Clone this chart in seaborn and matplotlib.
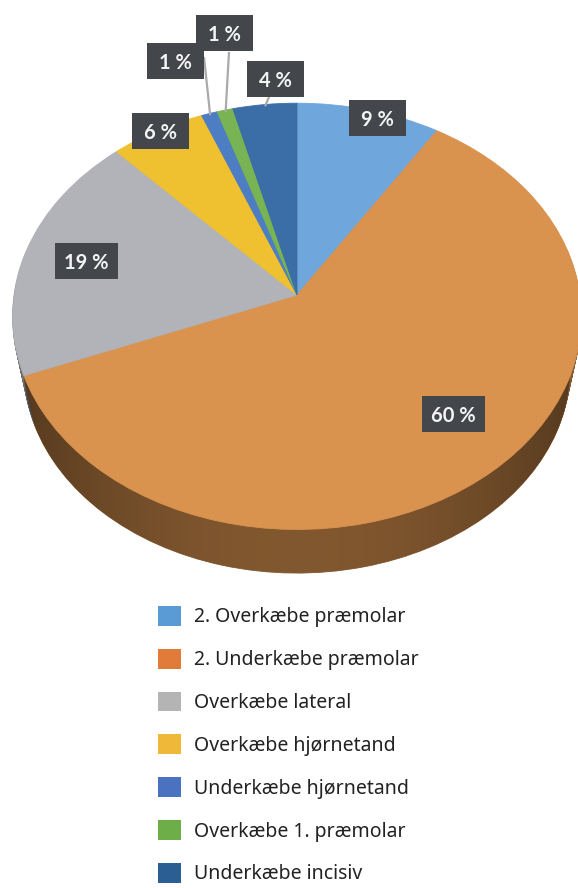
import numpy as np
import matplotlib
matplotlib.use("Agg")
import matplotlib.pyplot as plt
import seaborn as sns
from matplotlib.transforms import Transform
from matplotlib.patches import Patch, Rectangle, Polygon

# Tooth types and their share of the cases (percent)
categories = [
    "2. Overkæbe præmolar",
    "2. Underkæbe præmolar",
    "Overkæbe lateral",
    "Overkæbe hjørnetand",
    "Underkæbe hjørnetand",
    "Overkæbe 1. præmolar",
    "Underkæbe incisiv",
]
shares = [9, 60, 19, 6, 1, 1, 4]
value_labels = [f"{s} %" for s in shares]

# Slice colours on the lit top face, the legend swatches and the rim
face_colors = ["#6fa6dc", "#da934f", "#b1b3b9", "#efc130", "#4d7ec3", "#78b453", "#3b6ea6"]
legend_colors = ["#5b9bd5", "#e07b39", "#b4b4b4", "#f0b838", "#4a72c0", "#6dae48", "#2b5f94"]
side_colors = [tuple(0.62 * c for c in matplotlib.colors.to_rgb(fc)) for fc in face_colors]

sns.set_theme(style="white")
plt.rcParams["font.family"] = ["Noto Sans", "DejaVu Sans"]

W, H = 578, 888
fig = plt.figure(figsize=(W / 100, H / 100), dpi=100)
ax = fig.add_axes([0, 0, 1, 1])

# Tilted disc seen in perspective: the unit pie is mapped onto the page.
# The underside sits lower and slightly smaller (further from the eye).
CX, CY, RX, RY, K = 297.0, 295.0, 283.0, 211.0, 0.10
BOTTOM_DROP, BOTTOM_SCALE, LAYERS = 53.0, 0.96, 48


class TiltedDisc(Transform):
    input_dims = 2
    output_dims = 2
    is_separable = False
    has_inverse = False

    def __init__(self, drop=0.0, scale=1.0):
        super().__init__()
        self.drop = drop
        self.scale = scale

    def transform_non_affine(self, values):
        a = np.asarray(values, dtype=float)
        p = a.reshape(-1, 2)
        u, v = p[:, 0], p[:, 1]
        d = 1.0 + K * v
        out = np.column_stack([CX + self.scale * RX * u / d,
                               CY + self.drop - self.scale * RY * v / d])
        return out.reshape(a.shape)


def layer(t):
    return TiltedDisc(BOTTOM_DROP * t, 1.0 - (1.0 - BOTTOM_SCALE) * t)


def draw_pie(colors, disc, z):
    wedges, _ = ax.pie(shares, colors=colors, startangle=90, counterclock=False,
                       radius=1.0, wedgeprops=dict(linewidth=0.6))
    tr = disc + ax.transData
    for w, c in zip(wedges, colors):
        w.set_transform(tr)
        w.set_edgecolor(c)
        w.set_zorder(z)
    return wedges


# Rim of the disc: stacked copies of the pie, deepest first
for i in range(LAYERS, 0, -1):
    draw_pie(side_colors, layer(i / LAYERS), 1)

# Outline of top face together with underside, for clipping the rim shading
th = np.linspace(0, 2 * np.pi, 1441)
ring = np.column_stack([np.cos(th), np.sin(th)])
c0 = np.array([CX, CY + 40])
phi = np.linspace(-np.pi, np.pi, 1441)


def radial(pts):
    rel = pts - c0
    ang = np.arctan2(rel[:, 1], rel[:, 0])
    rad = np.hypot(rel[:, 0], rel[:, 1])
    o = np.argsort(ang)
    return np.interp(phi, ang[o], rad[o], period=2 * np.pi)


r_union = np.maximum(radial(layer(0).transform_non_affine(ring)),
                     radial(layer(1).transform_non_affine(ring)))
outline = c0 + np.column_stack([r_union * np.cos(phi), r_union * np.sin(phi)])
hull = Polygon(outline, closed=True, transform=ax.transData,
               facecolor="none", edgecolor="none")

# Shading across the rim, darker towards both ends
xs = np.linspace(0, W, 300)
alpha = np.clip(0.04 + 0.34 * ((xs - CX) / RX) ** 2, 0, 0.5)
grad = np.zeros((2, xs.size, 4))
grad[..., 3] = alpha
im = ax.imshow(grad, extent=(0, W, 620, 250), aspect="auto", zorder=2,
               interpolation="bilinear")
im.set_clip_path(hull)

# Top face
draw_pie(face_colors, layer(0), 3)

# Value labels in dark boxes
label_pos = [(377, 118), (453, 414), (86, 261), (160, 131), (175, 61), (224, 33), (275, 79)]
for (lx, ly), txt in zip(label_pos, value_labels):
    bw = 57 if len(txt) <= 3 else 63
    bh = 36
    ax.add_patch(Rectangle((lx - bw / 2, ly - bh / 2), bw, bh, facecolor="#43474b",
                           edgecolor="none", zorder=5))
    ax.text(lx, ly, txt, ha="center", va="center_baseline", color="#f4f4f4",
            fontsize=14.5, fontweight="bold", family=["Lato", "DejaVu Sans"], zorder=6)

# Leader lines from the small slices to their boxes
cum = np.cumsum([0] + shares)
top = layer(0)
for idx, anchor in [(4, (204, 57)), (5, (229, 52)), (6, (269, 97))]:
    mid = (cum[idx] + cum[idx + 1]) / 2 / 100.0
    ang = np.pi / 2 - 2 * np.pi * mid
    rim = top.transform_non_affine(np.array([[np.cos(ang) * 0.99, np.sin(ang) * 0.99]]))[0]
    ax.plot([anchor[0], rim[0]], [anchor[1], rim[1]], color="#aaaaaa", lw=1.6, zorder=4,
            solid_capstyle="butt")

ax.set_xlim(0, W)
ax.set_ylim(H, 0)
ax.set_aspect("auto")
ax.axis("off")

# Legend below the pie
fs = 14.0
fpx = fs * 100 / 72
handles = [Patch(facecolor=c, edgecolor="none") for c in legend_colors]
leg = fig.legend(handles, categories, loc="upper left",
                 bbox_to_anchor=(158 / W, 1 - 606 / H), bbox_transform=fig.transFigure,
                 frameon=False, fontsize=fs, borderpad=0, borderaxespad=0,
                 handlelength=23 / fpx, handleheight=23 / fpx, handletextpad=13 / fpx,
                 labelspacing=1.1, labelcolor="#222222")

fig.savefig("out.png", dpi=100, facecolor="white")
